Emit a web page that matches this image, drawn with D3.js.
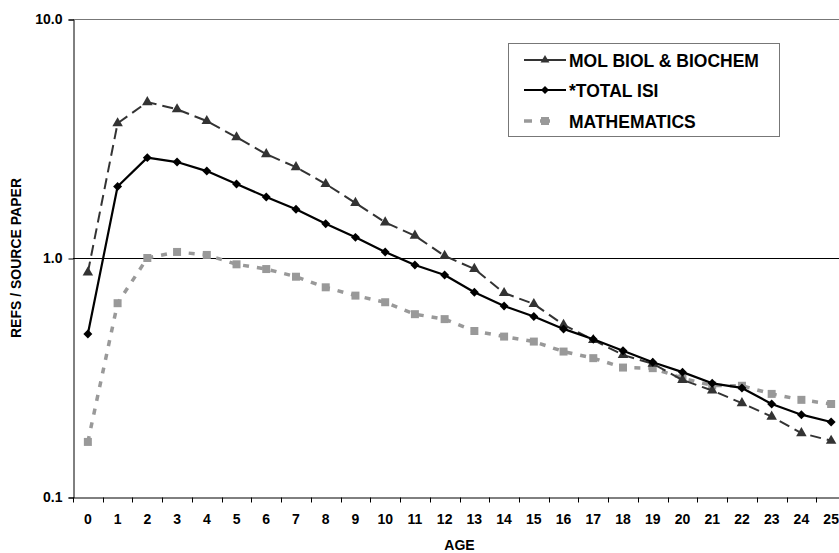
<!DOCTYPE html>
<html>
<head>
<meta charset="utf-8">
<script src="https://cdn.jsdelivr.net/npm/d3@7/dist/d3.min.js"></script>
<style>
  html, body { margin: 0; padding: 0; background: #fff; }
  svg { display: block; }
  text { font-family: "Liberation Sans", Arial, sans-serif; font-weight: bold; fill: #000; }
</style>
</head>
<body>
<svg id="chart" width="839" height="553"></svg>
<script>
const ages = d3.range(0, 26);
const seriesNames = ["MOL BIOL & BIOCHEM", "*TOTAL ISI", "MATHEMATICS"];
const molBiol = [0.87, 3.66, 4.49, 4.19, 3.74, 3.20, 2.72, 2.40, 2.04, 1.70, 1.41, 1.24, 1.02, 0.90, 0.714, 0.642, 0.525, 0.454, 0.393, 0.361, 0.309, 0.279, 0.247, 0.217, 0.185, 0.172];
const totalIsi = [0.481, 1.99, 2.63, 2.52, 2.31, 2.04, 1.80, 1.60, 1.39, 1.22, 1.06, 0.935, 0.849, 0.719, 0.630, 0.569, 0.505, 0.457, 0.409, 0.366, 0.333, 0.299, 0.286, 0.245, 0.221, 0.206];
const mathematics = [0.170, 0.647, 1.00, 1.06, 1.03, 0.941, 0.899, 0.835, 0.754, 0.696, 0.653, 0.582, 0.555, 0.495, 0.469, 0.447, 0.406, 0.381, 0.348, 0.346, 0.314, 0.293, 0.292, 0.270, 0.255, 0.245];
const yTicks = [0.1, 1, 10];
const xTitle = "AGE";
const yTitle = "REFS / SOURCE PAPER";

const svg = d3.select("#chart");
const L = 73, R = 846, T = 19, B = 497;

const x = d3.scaleBand().domain(ages).range([L, R]).paddingInner(0).paddingOuter(0);
const y = d3.scaleLog().domain([0.1, 10]).range([B, T]);
const cx = a => x(a) + x.bandwidth() / 2;

// top border (gray)
svg.append("line").attr("x1", L).attr("x2", R).attr("y1", T + 0.5).attr("y2", T + 0.5)
  .attr("stroke", "#777").attr("stroke-width", 1);
// gridline at 1.0
svg.append("line").attr("x1", L).attr("x2", R).attr("y1", Math.round(y(1)) + 0.5).attr("y2", Math.round(y(1)) + 0.5)
  .attr("stroke", "#000").attr("stroke-width", 1);

// Y axis
const yAxis = d3.axisLeft(y).tickValues(yTicks).tickFormat(d3.format(".1f")).tickSize(5).tickPadding(6);
const gy = svg.append("g").attr("transform", `translate(${L + 0.5},0.5)`).call(yAxis);
gy.select(".domain").attr("stroke", "#000").attr("stroke-width", 1);
gy.selectAll(".tick line").attr("stroke", "#000");
gy.selectAll(".tick text").attr("font-size", 14).attr("font-family", "Liberation Sans, Arial, sans-serif").attr("font-weight", "bold").attr("fill", "#000");

// X axis
const xAxis = d3.axisBottom(x).tickSize(0).tickPadding(17);
const gx = svg.append("g").attr("transform", `translate(0,${B + 0.5})`).call(xAxis);
gx.select(".domain").attr("stroke", "#000").attr("stroke-width", 1);
gx.selectAll(".tick text").attr("font-size", 14).attr("font-family", "Liberation Sans, Arial, sans-serif").attr("font-weight", "bold").attr("fill", "#000");
// band boundary tick marks
gx.selectAll(".bt").data(ages.concat([ages.length])).enter().append("line")
  .attr("x1", (d, i) => Math.round(L + i * x.bandwidth()) + 0.5).attr("x2", (d, i) => Math.round(L + i * x.bandwidth()) + 0.5)
  .attr("y1", 0).attr("y2", 5).attr("stroke", "#000").attr("stroke-width", 1);

// Titles
svg.append("text").attr("x", (L + R) / 2).attr("y", 550).attr("text-anchor", "middle")
  .attr("font-size", 14).text(xTitle);
svg.append("text").attr("transform", `translate(21,${y(1)}) rotate(-90)`).attr("text-anchor", "middle")
  .attr("font-size", 14).text(yTitle);

const diamond = { draw(ctx, size) { const r = Math.sqrt(size / 2); ctx.moveTo(0, -r); ctx.lineTo(r, 0); ctx.lineTo(0, r); ctx.lineTo(-r, 0); ctx.closePath(); } };

const series = [
  { name: seriesNames[0], values: molBiol, color: "#333", width: 2, dash: "11,6", marker: "triangle", msize: 48, lsize: 34 },
  { name: seriesNames[1], values: totalIsi, color: "#000", width: 2.2, dash: null, marker: "diamond", msize: 40, lsize: 32 },
  { name: seriesNames[2], values: mathematics, color: "#999", width: 3.5, dash: "6,8", marker: "square", msize: 64, lsize: 64 }
];
const symbolType = { triangle: d3.symbolTriangle, diamond: diamond, square: d3.symbolSquare };

const line = d3.line().x((d, i) => cx(ages[i])).y(d => y(d));

// draw order: math first (behind), then mol, then total
[series[2], series[0], series[1]].forEach(s => {
  const g = svg.append("g");
  g.append("path").datum(s.values).attr("d", line).attr("fill", "none")
    .attr("stroke", s.color).attr("stroke-width", s.width)
    .attr("stroke-dasharray", s.dash).attr("stroke-linejoin", "round");
  g.selectAll("path.m").data(s.values).enter().append("path").attr("class", "m")
    .attr("transform", (d, i) => `translate(${cx(ages[i])},${y(d)})`)
    .attr("d", d3.symbol().type(symbolType[s.marker]).size(s.msize))
    .attr("fill", s.color);
});

// Legend
const lg = svg.append("g");
lg.append("rect").attr("x", 508.5).attr("y", 43.5).attr("width", 271).attr("height", 93)
  .attr("fill", "#fff").attr("stroke", "#777").attr("stroke-width", 1);
const rowsY = [60, 90, 121];
series.forEach((s, i) => {
  const yy = rowsY[i];
  if (s.marker === "square") {
    lg.append("line").attr("x1", 524).attr("x2", 532).attr("y1", yy).attr("y2", yy)
      .attr("stroke", s.color).attr("stroke-width", s.width);
    lg.append("line").attr("x1", 540).attr("x2", 550).attr("y1", yy).attr("y2", yy)
      .attr("stroke", s.color).attr("stroke-width", s.width);
  } else {
    lg.append("line").attr("x1", 524).attr("x2", 566).attr("y1", yy).attr("y2", yy)
      .attr("stroke", s.color).attr("stroke-width", s.width);
  }
  lg.append("path").attr("transform", `translate(545,${yy})`)
    .attr("d", d3.symbol().type(symbolType[s.marker]).size(s.lsize)).attr("fill", s.color);
  lg.append("text").attr("x", 569).attr("y", yy + 6.5).attr("font-size", 17.5).text(s.name);
});
</script>
</body>
</html>
